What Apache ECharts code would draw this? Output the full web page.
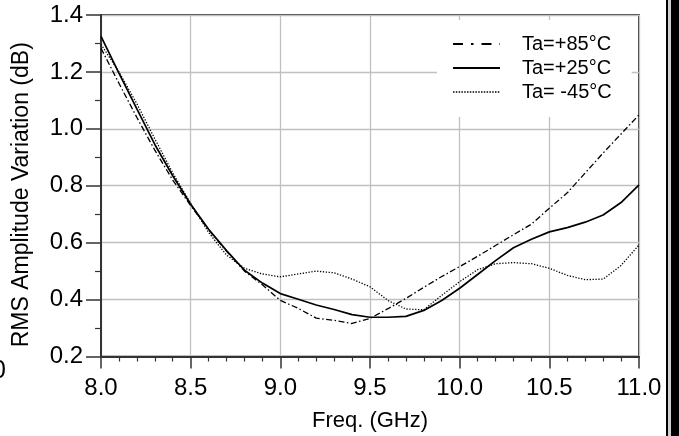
<!DOCTYPE html>
<html><head><meta charset="utf-8">
<script src="https://cdn.jsdelivr.net/npm/echarts@6/dist/echarts.min.js"></script>
<style>html,body{margin:0;padding:0;background:#fff}#c{width:679px;height:436px}</style>
</head><body><div id="c"></div>
<script>
const freq = [8.0,8.1,8.2,8.3,8.4,8.5,8.6,8.7,8.8,8.9,9.0,9.1,9.2,9.3,9.4,9.5,9.6,9.7,9.8,9.9,10.0,10.1,10.2,10.3,10.4,10.5,10.6,10.7,10.8,10.9,11.0];
const ta85 = [1.283,1.16,1.04,0.925,0.82,0.73,0.645,0.57,0.50,0.452,0.397,0.369,0.335,0.327,0.316,0.334,0.368,0.404,0.443,0.481,0.516,0.552,0.59,0.628,0.665,0.721,0.775,0.845,0.915,0.982,1.049];
const ta25 = [1.325,1.196,1.07,0.945,0.835,0.735,0.647,0.572,0.503,0.458,0.421,0.401,0.381,0.365,0.347,0.338,0.338,0.341,0.362,0.397,0.44,0.488,0.537,0.582,0.612,0.638,0.653,0.672,0.697,0.741,0.803];
const taM45 = [1.297,1.2,1.088,0.965,0.845,0.738,0.636,0.556,0.51,0.49,0.48,0.49,0.50,0.494,0.472,0.445,0.397,0.367,0.364,0.415,0.463,0.505,0.526,0.53,0.526,0.51,0.485,0.47,0.472,0.52,0.592];
const seriesNames = ['Ta=+85\u00B0C','Ta=+25\u00B0C','Ta= -45\u00B0C'];
const xTickLabels = ['8.0','8.5','9.0','9.5','10.0','10.5','11.0'];
const yTickLabels = ['0.2','0.4','0.6','0.8','1.0','1.2','1.4'];

const pairs = v => freq.map((f,i)=>[f,v[i]]);
const FONT = 'Liberation Sans';
const chart = echarts.init(document.getElementById('c'));
chart.setOption({
  animation:false,
  backgroundColor:'#fff',
  grid:{left:101,right:40,top:15,bottom:79.5,show:true,borderColor:'#000',borderWidth:1.5,backgroundColor:'transparent',
    outerBoundsMode:'none',containLabel:false},
  legend:{
    orient:'vertical',left:437,top:20,
    padding:[14,20,15,15],
    backgroundColor:'#fff',
    itemWidth:47,itemHeight:14,itemGap:4,
    itemStyle:{opacity:0,color:'transparent',borderWidth:0},
    formatter:n=>'{t|'+n+'}',
    textStyle:{color:'#000',rich:{t:{fontFamily:FONT,fontSize:20,color:'#000',lineHeight:20,padding:[0,0,0,17]}}},
    data:[
      {name:seriesNames[0],lineStyle:{type:[10,8,2.5,8],width:2,color:'#000'}},
      {name:seriesNames[1],lineStyle:{type:'solid',width:2,color:'#000'}},
      {name:seriesNames[2],lineStyle:{type:[1.5,1.3],width:1.5,color:'#000'}}
    ]
  },
  xAxis:{
    type:'value',min:8,max:11,interval:0.5,
    name:'Freq. (GHz)',nameLocation:'middle',nameGap:53,
    nameTextStyle:{fontFamily:FONT,fontSize:22,color:'#000'},
    axisLine:{show:true,lineStyle:{color:'#333',width:2}},
    axisTick:{show:true,inside:false,length:12,lineStyle:{color:'#333',width:1.5}},
    minorTick:{show:true,splitNumber:5,length:5,lineStyle:{color:'#333',width:1.2}},
    splitLine:{show:true,lineStyle:{color:'#c0c0c0',width:1.3}},
    axisLabel:{fontFamily:FONT,fontSize:24,color:'#000',margin:20,showMinLabel:true,showMaxLabel:true,hideOverlap:false,
      formatter:v=>{const i=Math.round((v-8)/0.5);return xTickLabels[i]??'';}}
  },
  yAxis:{
    type:'value',min:0.2,max:1.4,interval:0.2,
    name:'RMS Amplitude Variation (dB)',nameLocation:'middle',nameGap:68,
    nameTextStyle:{fontFamily:FONT,fontSize:23,color:'#000',padding:[0,18,0,0]},
    axisLine:{show:true,lineStyle:{color:'#333',width:2}},
    axisTick:{show:true,inside:false,length:15,lineStyle:{color:'#333',width:1.5}},
    minorTick:{show:true,splitNumber:2,length:6,lineStyle:{color:'#333',width:1.2}},
    splitLine:{show:true,lineStyle:{color:'#c0c0c0',width:1.3}},
    axisLabel:{fontFamily:FONT,fontSize:24,color:'#000',margin:18,showMinLabel:true,showMaxLabel:true,
      formatter:v=>{const i=Math.round((v-0.2)/0.2);return yTickLabels[i]??'';}}
  },
  series:[
    {name:seriesNames[0],type:'line',data:pairs(ta85),symbol:'none',itemStyle:{color:'#000'},lineStyle:{color:'#000',width:1.3,type:[6,2.5,1.5,2.5]}},
    {name:seriesNames[1],type:'line',data:pairs(ta25),symbol:'none',itemStyle:{color:'#000'},lineStyle:{color:'#000',width:1.7,type:'solid'}},
    {name:seriesNames[2],type:'line',data:pairs(taM45),symbol:'none',itemStyle:{color:'#000'},lineStyle:{color:'#000',width:1.3,type:[1.3,1.6]}}
  ],
  graphic:[
    {type:'rect',shape:{x:666,y:0,width:2,height:436},style:{fill:'#000'},z:10},
    {type:'rect',shape:{x:668,y:0,width:3,height:436},style:{fill:'#d0d0d0'},z:10},
    {type:'rect',shape:{x:671,y:0,width:8,height:436},style:{fill:'#000'},z:10},
    {type:'text',x:6,y:371,style:{text:'0',fontFamily:FONT,fontSize:25,fill:'#000',align:'right',verticalAlign:'middle'},z:10}
  ]
});
</script></body></html>
